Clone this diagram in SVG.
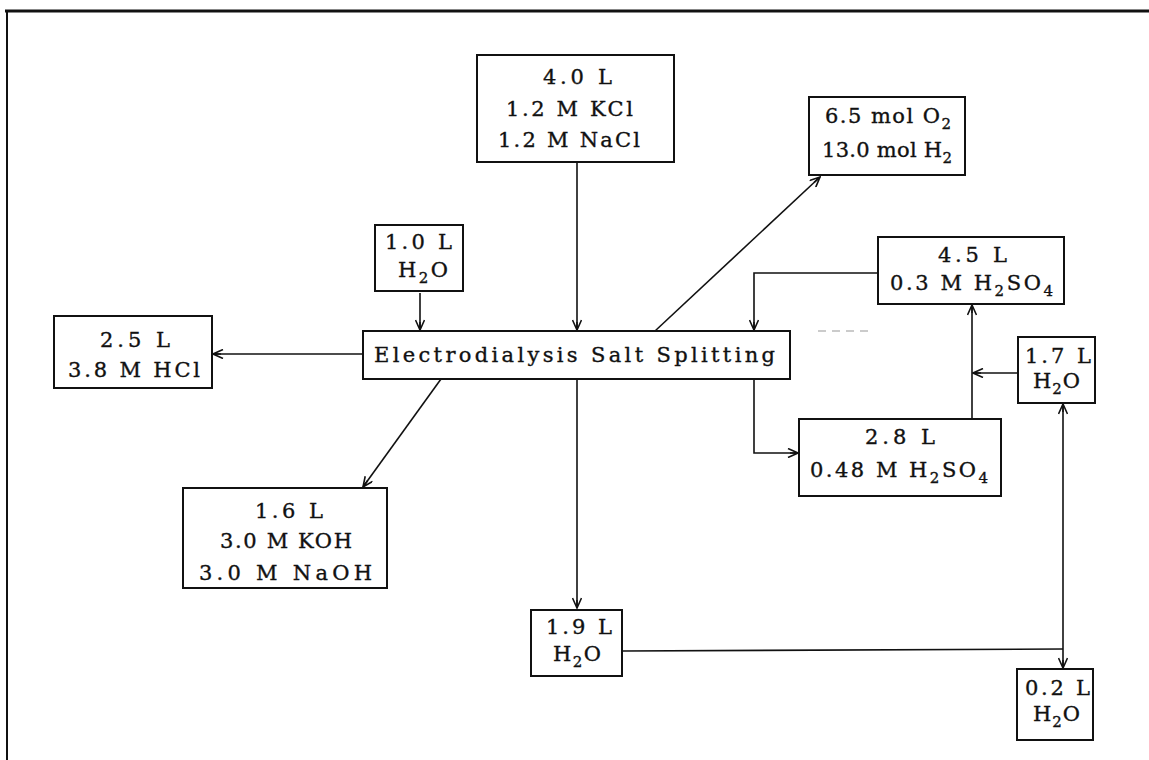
<svg xmlns="http://www.w3.org/2000/svg" width="1149" height="760" viewBox="0 0 1149 760">
<defs>
<style>
.box{fill:#fff;stroke:#111;stroke-width:2}
.ln{fill:none;stroke:#111;stroke-width:1.6}
text{font-family:"DejaVu Serif","Liberation Serif",serif;font-size:21px;fill:#111;stroke:#111;stroke-width:0.35}
.sub{font-size:15px}
</style>
<marker id="ah" viewBox="0 0 12 10" refX="11" refY="5" markerWidth="12" markerHeight="10" markerUnits="userSpaceOnUse" orient="auto">
<path d="M1,0.5 L11,5 L1,9.5 M11,5 L3,5" fill="none" stroke="#111" stroke-width="1.6"/>
</marker>
</defs>
<rect width="1149" height="760" fill="#fff"/>
<g id="frame">
<line x1="5" y1="11" x2="1149" y2="11" stroke="#111" stroke-width="3"/>
<line x1="7" y1="11" x2="7" y2="760" stroke="#111" stroke-width="2"/>
<line x1="818" y1="331" x2="868" y2="331" stroke="#bbb" stroke-width="1.5" stroke-dasharray="8 6"/>
</g>
<g id="connectors">
<line class="ln" x1="577" y1="162" x2="577" y2="330" marker-end="url(#ah)"/>
<line class="ln" x1="420" y1="293" x2="420" y2="330" marker-end="url(#ah)"/>
<line class="ln" x1="655" y1="331" x2="820" y2="177" marker-end="url(#ah)"/>
<line class="ln" x1="363" y1="354" x2="213" y2="354" marker-end="url(#ah)"/>
<line class="ln" x1="441" y1="379" x2="363" y2="487" marker-end="url(#ah)"/>
<line class="ln" x1="577" y1="379" x2="577" y2="608" marker-end="url(#ah)"/>
<polyline class="ln" points="878,273 754,273 754,330" marker-end="url(#ah)"/>
<polyline class="ln" points="754,379 754,453 798,453" marker-end="url(#ah)"/>
<line class="ln" x1="972" y1="419" x2="972" y2="305" marker-end="url(#ah)"/>
<line class="ln" x1="1018" y1="373" x2="973" y2="373" marker-end="url(#ah)"/>
<line class="ln" x1="623" y1="651" x2="1063" y2="649"/>
<line class="ln" x1="1063" y1="649" x2="1063" y2="404" marker-end="url(#ah)"/>
<line class="ln" x1="1063" y1="649" x2="1063" y2="668" marker-end="url(#ah)"/>
</g>
<g id="feed">
<rect class="box" x="477" y="55" width="197" height="107"/>
<text x="543" y="84" textLength="69" lengthAdjust="spacing">4.0 L</text>
<text x="506" y="116" textLength="127" lengthAdjust="spacing">1.2 M KCl</text>
<text x="498" y="147" textLength="142" lengthAdjust="spacing">1.2 M NaCl</text>
</g>
<g id="gases">
<rect class="box" x="809" y="97" width="156" height="78"/>
<text x="825" y="123" textLength="126" lengthAdjust="spacing">6.5 mol O<tspan class="sub" dy="6">2</tspan></text>
<text x="822" y="157" textLength="130" lengthAdjust="spacing">13.0 mol H<tspan class="sub" dy="6">2</tspan></text>
</g>
<g id="water-in">
<rect class="box" x="375" y="225" width="88" height="66"/>
<text x="385" y="249" textLength="67" lengthAdjust="spacing">1.0 L</text>
<text x="398" y="277" textLength="50" lengthAdjust="spacing">H<tspan class="sub" dy="6">2</tspan><tspan dy="-6">O</tspan></text>
</g>
<g id="hcl">
<rect class="box" x="54" y="316" width="158" height="72"/>
<text x="100" y="347" textLength="70" lengthAdjust="spacing">2.5 L</text>
<text x="68" y="377" textLength="132" lengthAdjust="spacing">3.8 M HCl</text>
</g>
<g id="edss">
<rect class="box" x="363" y="331" width="427" height="48"/>
<text x="374" y="362" textLength="401" lengthAdjust="spacing">Electrodialysis Salt Splitting</text>
</g>
<g id="acid-45">
<rect class="box" x="878" y="237" width="186" height="67"/>
<text x="938" y="262" textLength="69" lengthAdjust="spacing">4.5 L</text>
<text x="890" y="290" textLength="163" lengthAdjust="spacing">0.3 M H<tspan class="sub" dy="6">2</tspan><tspan dy="-6">SO</tspan><tspan class="sub" dy="6">4</tspan></text>
</g>
<g id="acid-28">
<rect class="box" x="799" y="419" width="202" height="77"/>
<text x="865" y="444" textLength="70" lengthAdjust="spacing">2.8 L</text>
<text x="810" y="477" textLength="178" lengthAdjust="spacing">0.48 M H<tspan class="sub" dy="6">2</tspan><tspan dy="-6">SO</tspan><tspan class="sub" dy="6">4</tspan></text>
</g>
<g id="water-17">
<rect class="box" x="1018" y="337" width="77" height="66"/>
<text x="1025" y="363" textLength="66" lengthAdjust="spacing">1.7 L</text>
<text x="1033" y="388" textLength="47" lengthAdjust="spacing">H<tspan class="sub" dy="6">2</tspan><tspan dy="-6">O</tspan></text>
</g>
<g id="base">
<rect class="box" x="183" y="488" width="204" height="100"/>
<text x="255" y="518" textLength="68" lengthAdjust="spacing">1.6 L</text>
<text x="220" y="548" textLength="132" lengthAdjust="spacing">3.0 M KOH</text>
<text x="199" y="580" textLength="173" lengthAdjust="spacing">3.0 M NaOH</text>
</g>
<g id="water-19">
<rect class="box" x="531" y="610" width="91" height="66"/>
<text x="546" y="634" textLength="66" lengthAdjust="spacing">1.9 L</text>
<text x="553" y="661" textLength="48" lengthAdjust="spacing">H<tspan class="sub" dy="6">2</tspan><tspan dy="-6">O</tspan></text>
</g>
<g id="water-02">
<rect class="box" x="1017" y="669" width="76" height="71"/>
<text x="1025" y="695" textLength="65" lengthAdjust="spacing">0.2 L</text>
<text x="1033" y="721" textLength="47" lengthAdjust="spacing">H<tspan class="sub" dy="6">2</tspan><tspan dy="-6">O</tspan></text>
</g>
</svg>
